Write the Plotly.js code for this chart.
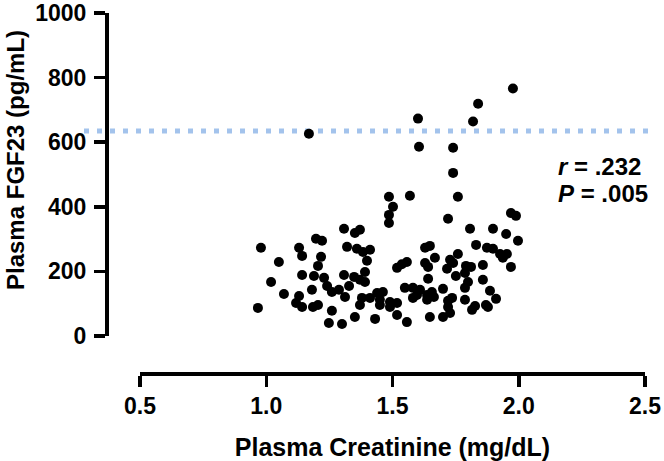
<!DOCTYPE html>
<html><head><meta charset="utf-8">
<script src="https://cdn.plot.ly/plotly-3.0.1.min.js"></script>
<style>html,body{margin:0;padding:0;background:#fff}</style>
</head><body><div id="chart" style="width:664px;height:461px"></div>
<script>
const creatinine = [
 0.979,1.130,1.142,1.197,1.050,1.217,1.205,1.142,1.189,1.019,1.181,1.070,1.130,1.118,1.142,1.185,1.205,0.967,1.169,
 1.486,1.502,1.486,1.486,1.308,1.351,1.371,1.221,1.320,1.359,1.383,1.411,1.399,1.518,1.308,1.229,1.348,1.371,1.391,1.391,
 1.241,1.328,1.260,1.288,1.312,1.379,1.411,1.439,1.462,1.450,1.490,1.518,1.371,1.450,1.490,1.260,1.351,1.431,1.248,1.300,
 1.518,1.557,1.549,1.581,1.581,1.569,1.605,1.537,1.557,
 1.977,1.839,1.601,1.819,1.740,1.740,1.759,1.720,1.969,1.989,1.807,1.898,1.950,1.997,1.831,1.629,1.648,1.874,1.898,1.926,
 1.953,1.937,1.759,1.668,1.728,1.740,1.629,1.641,1.791,1.811,1.858,1.969,1.716,1.787,1.751,1.641,1.858,1.799,1.787,1.609,
 1.700,1.656,1.637,1.664,1.597,1.886,1.736,1.720,1.787,1.910,1.637,1.827,1.815,1.870,1.878,1.728,1.700,1.648,1.720
];
const fgf23 = [
 273,273,248,301,229,245,217,189,186,167,143,130,124,102,90,90,96,87,626,
 431,400,375,350,332,319,329,295,276,270,260,267,233,211,189,180,183,174,198,167,
 155,155,136,143,121,118,118,133,136,112,105,102,96,96,90,78,59,53,40,37,
 65,43,149,149,118,434,586,222,229,
 766,719,673,664,583,505,431,363,381,372,332,332,316,295,282,273,279,273,270,254,
 254,242,254,242,236,226,226,214,217,214,220,214,208,195,186,177,174,167,149,143,
 146,136,127,121,127,140,118,109,112,115,112,93,81,96,90,71,59,59,90
];
const xTickVals = [0.5, 1.0, 1.5, 2.0, 2.5];
const xTickText = ['0.5', '1.0', '1.5', '2.0', '2.5'];
const yTickVals = [0, 200, 400, 600, 800, 1000];
const yTickText = ['0', '200', '400', '600', '800', '1000'];
const threshold = 635;
const statsText = ['<i>r</i> = .232', '<i>P</i> = .005'];
const xTitle = 'Plasma Creatinine (mg/dL)';
const yTitle = 'Plasma FGF23 (pg/mL)';

const FONT = 'Liberation Sans, Arial, Helvetica, sans-serif';
const W = 664, H = 461;
const L = 106, R = 19, T = 13, B = 88;
const pw = W - L - R, ph = H - T - B;
const px2paperX = p => (p - L) / pw;
const px2paperY = p => (H - B - p) / ph;

const trace = {
  type: 'scatter', mode: 'markers',
  x: creatinine, y: fgf23,
  marker: {color: '#000', size: 10, line: {width: 0}},
  cliponaxis: false, hoverinfo: 'skip'
};

const axisCommon = {
  showgrid: false, zeroline: false, showline: true, linecolor: '#000', linewidth: 3.5,
  ticks: 'outside', ticklen: 11, tickwidth: 3.5, tickcolor: '#000',
  tickfont: {family: FONT, size: 23, color: '#000', weight: 'bold'},
  anchor: 'free', position: 0, fixedrange: true
};

const layout = {
  width: W, height: H,
  margin: {l: L, r: R, t: T, b: B, pad: 0},
  paper_bgcolor: '#fff', plot_bgcolor: '#fff',
  showlegend: false,
  xaxis: Object.assign({}, axisCommon, {
    domain: [px2paperX(140), 1], range: [0.5, 2.5],
    tickvals: xTickVals, ticktext: xTickText,
    title: {text: xTitle, font: {family: FONT, size: 25, color: '#000', weight: 'bold'}, standoff: 22}
  }),
  yaxis: Object.assign({}, axisCommon, {
    domain: [px2paperY(336), 1], range: [0, 1000],
    tickvals: yTickVals, ticktext: yTickText,
    ticklabelstandoff: 3
  }),
  shapes: [{
    type: 'line', xref: 'paper', yref: 'y',
    x0: px2paperX(84), x1: px2paperX(654), y0: threshold, y1: threshold,
    line: {color: '#a3c3ec', width: 5, dash: '5px,8px'}, layer: 'below'
  }],
  annotations: [
    {xref: 'paper', yref: 'paper', x: px2paperX(556), y: px2paperY(166),
     xanchor: 'left', yanchor: 'middle', align: 'left', showarrow: false,
     text: statsText[0],
     font: {family: FONT, size: 24, color: '#000', weight: 'bold'}},
    {xref: 'paper', yref: 'paper', x: px2paperX(556), y: px2paperY(193),
     xanchor: 'left', yanchor: 'middle', align: 'left', showarrow: false,
     text: statsText[1],
     font: {family: FONT, size: 24, color: '#000', weight: 'bold'}},
    {xref: 'paper', yref: 'paper', x: px2paperX(15), y: px2paperY(160),
     xanchor: 'center', yanchor: 'middle', textangle: -90, showarrow: false,
     text: yTitle,
     font: {family: FONT, size: 24, color: '#000', weight: 'bold'}}
  ]
};

Plotly.newPlot('chart', [trace], layout, {displayModeBar: false, staticPlot: true});
</script>
</body></html>
